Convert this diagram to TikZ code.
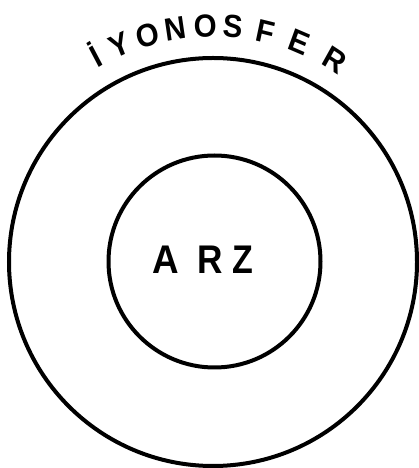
\documentclass[tikz,border=0pt]{standalone}
\usepackage{fontspec}
\setmainfont{Liberation Sans}
\usetikzlibrary{calc}
\tikzset{
  ring/.style={draw=black, line width=4pt},
  arcletter/.style={anchor=base, inner sep=0pt, font=\bfseries\fontsize{32}{32}\selectfont},
  earthletter/.style={anchor=base, inner sep=0pt, font=\bfseries\fontsize{40}{40}\selectfont},
}
\begin{document}
\begin{tikzpicture}[x=1pt,y=1pt]
\useasboundingbox (0,0) rectangle (419,468);
\coordinate (c) at (213,206);
% rings
\draw[ring] (c) circle[radius=204];
\draw[ring] (214.5,206.5) circle[radius=106];
% ARZ
\node[earthletter, xscale=0.92] (a1) at (166,194) {A};
\node[earthletter, xscale=0.88] (a2) at (210,194) {R};
\node[earthletter, xscale=0.85] (a3) at (243,194) {Z};
% IYONOSFER along arc
\foreach \ch/\ang [count=\i] in {İ/119.8, Y/113.3, O/106.2, N/99.1, O/91.9, S/85.1, F/77.1, E/68.5, R/58.8}{
  \node[arcletter, xscale=0.92, rotate=\ang-90] (t\i) at ($(c)+(\ang:225)$) {\ch};
}
\end{tikzpicture}
\end{document}
